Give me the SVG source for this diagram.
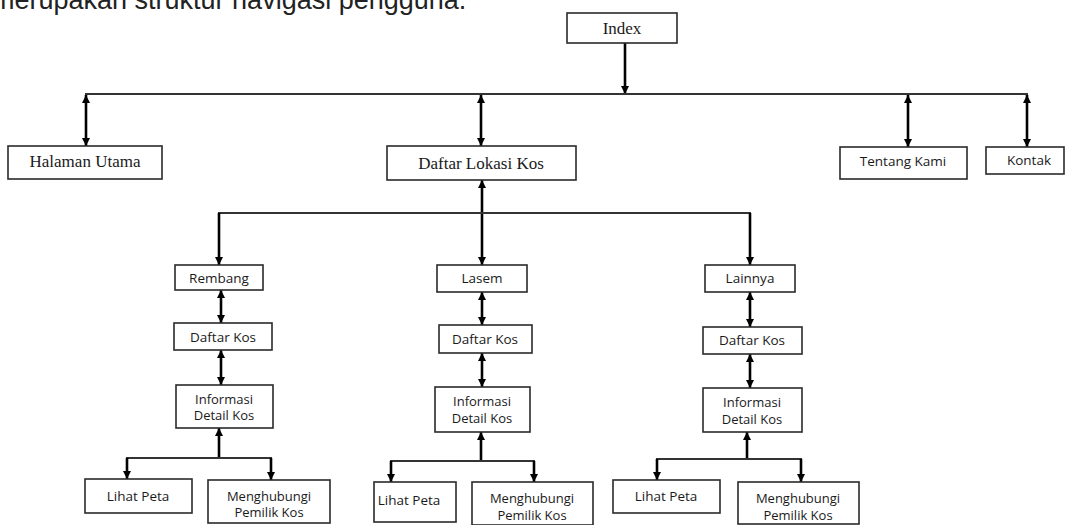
<svg xmlns="http://www.w3.org/2000/svg" width="1065" height="525" viewBox="0 0 1065 525">
  <style>
    .box { fill: #ffffff; stroke: #2a2a2a; stroke-width: 1.6; }
    .serif { font-family: "Liberation Serif", "Times New Roman", serif; font-size: 17px; fill: #1a1a1a; text-anchor: middle; dominant-baseline: central; }
    .sans { font-family: "Open Sans", "Noto Sans", sans-serif; font-size: 13.5px; fill: #1a1a1a; text-anchor: middle; dominant-baseline: central; }
    .sans2 { font-family: "Open Sans", "Noto Sans", sans-serif; font-size: 13px; fill: #1a1a1a; text-anchor: middle; dominant-baseline: central; }
    .arrow { fill: none; stroke: #000000; stroke-width: 2.6; }
    .bar { fill: none; stroke: #333333; stroke-width: 2; }
    .intro { font-family: "Liberation Sans", Arial, sans-serif; font-size: 27px; fill: #222222; }
  </style>
  <defs>
    <marker id="head" viewBox="0 0 10 10" refX="10" refY="5" markerWidth="9" markerHeight="8" markerUnits="userSpaceOnUse" orient="auto-start-reverse">
      <path d="M0,0 L10,5 L0,10 Z" fill="#000000"/>
    </marker>
  </defs>

  <rect width="1065" height="525" fill="#ffffff"/>

  <text class="intro" x="-8" y="9">merupakan struktur navigasi pengguna.</text>

  <!-- connectors -->
  <g id="connectors">
    <!-- level 1 -->
    <line class="arrow" x1="625" y1="43" x2="625" y2="94" marker-end="url(#head)"/>
    <line class="bar" x1="85" y1="94" x2="1028" y2="94"/>
    <line class="arrow" x1="86" y1="95" x2="86" y2="146" marker-start="url(#head)" marker-end="url(#head)"/>
    <line class="arrow" x1="481" y1="95" x2="481" y2="146" marker-start="url(#head)" marker-end="url(#head)"/>
    <line class="arrow" x1="908" y1="95" x2="908" y2="147" marker-start="url(#head)" marker-end="url(#head)"/>
    <line class="arrow" x1="1027" y1="95" x2="1027" y2="147" marker-start="url(#head)" marker-end="url(#head)"/>

    <!-- level 2 -->
    <line class="arrow" x1="482" y1="180" x2="482" y2="265" marker-start="url(#head)" marker-end="url(#head)"/>
    <line class="bar" x1="218" y1="213" x2="751" y2="213"/>
    <line class="arrow" x1="219" y1="213" x2="219" y2="265" marker-end="url(#head)"/>
    <line class="arrow" x1="750" y1="213" x2="750" y2="265" marker-end="url(#head)"/>

    <!-- Rembang column -->
    <line class="arrow" x1="221" y1="290" x2="221" y2="323" marker-start="url(#head)" marker-end="url(#head)"/>
    <line class="arrow" x1="221" y1="350" x2="221" y2="385" marker-start="url(#head)" marker-end="url(#head)"/>
    <line class="arrow" x1="219" y1="458" x2="219" y2="428" marker-end="url(#head)"/>
    <line class="bar" x1="126" y1="458" x2="272" y2="458"/>
    <line class="arrow" x1="127" y1="458" x2="127" y2="479" marker-end="url(#head)"/>
    <line class="arrow" x1="271" y1="458" x2="271" y2="480" marker-end="url(#head)"/>

    <!-- Lasem column -->
    <line class="arrow" x1="482" y1="292" x2="482" y2="325" marker-start="url(#head)" marker-end="url(#head)"/>
    <line class="arrow" x1="482" y1="353" x2="482" y2="387" marker-start="url(#head)" marker-end="url(#head)"/>
    <line class="arrow" x1="481" y1="461" x2="481" y2="432" marker-end="url(#head)"/>
    <line class="bar" x1="390" y1="461" x2="535" y2="461"/>
    <line class="arrow" x1="391" y1="461" x2="391" y2="482" marker-end="url(#head)"/>
    <line class="arrow" x1="534" y1="461" x2="534" y2="482" marker-end="url(#head)"/>

    <!-- Lainnya column -->
    <line class="arrow" x1="750" y1="292" x2="750" y2="327" marker-start="url(#head)" marker-end="url(#head)"/>
    <line class="arrow" x1="750" y1="354" x2="750" y2="388" marker-start="url(#head)" marker-end="url(#head)"/>
    <line class="arrow" x1="747" y1="459" x2="747" y2="432" marker-end="url(#head)"/>
    <line class="bar" x1="656" y1="459" x2="802" y2="459"/>
    <line class="arrow" x1="657" y1="459" x2="657" y2="480" marker-end="url(#head)"/>
    <line class="arrow" x1="801" y1="459" x2="801" y2="482" marker-end="url(#head)"/>
  </g>

  <!-- nodes -->
  <g id="index">
    <rect class="box" x="567" y="13" width="110" height="30"/>
    <text class="serif" x="622" y="28">Index</text>
  </g>
  <g id="halaman-utama">
    <rect class="box" x="8" y="146" width="154" height="33"/>
    <text class="serif" x="85" y="161">Halaman Utama</text>
  </g>
  <g id="daftar-lokasi-kos">
    <rect class="box" x="387" y="146" width="189" height="34"/>
    <text class="serif" x="481" y="163">Daftar Lokasi Kos</text>
  </g>
  <g id="tentang-kami">
    <rect class="box" x="840" y="147" width="127" height="32"/>
    <text class="sans" x="903" y="161">Tentang Kami</text>
  </g>
  <g id="kontak">
    <rect class="box" x="986" y="147" width="78" height="27"/>
    <text class="sans" x="1029" y="160">Kontak</text>
  </g>

  <g id="rembang">
    <rect class="box" x="175" y="265" width="88" height="25"/>
    <text class="sans" x="219" y="278">Rembang</text>
  </g>
  <g id="rembang-daftar-kos">
    <rect class="box" x="174" y="323" width="98" height="27"/>
    <text class="sans" x="223" y="337">Daftar Kos</text>
  </g>
  <g id="rembang-detail">
    <rect class="box" x="176" y="385" width="97" height="43"/>
    <text class="sans2" x="224" y="399">Informasi</text>
    <text class="sans2" x="224" y="415">Detail Kos</text>
  </g>
  <g id="rembang-peta">
    <rect class="box" x="85" y="479" width="107" height="34"/>
    <text class="sans" x="138" y="496">Lihat Peta</text>
  </g>
  <g id="rembang-pemilik">
    <rect class="box" x="208" y="480" width="122" height="43"/>
    <text class="sans2" x="269" y="496">Menghubungi</text>
    <text class="sans2" x="269" y="512">Pemilik Kos</text>
  </g>

  <g id="lasem">
    <rect class="box" x="437" y="265" width="90" height="27"/>
    <text class="sans" x="482" y="278">Lasem</text>
  </g>
  <g id="lasem-daftar-kos">
    <rect class="box" x="439" y="325" width="93" height="28"/>
    <text class="sans" x="485" y="339">Daftar Kos</text>
  </g>
  <g id="lasem-detail">
    <rect class="box" x="435" y="387" width="95" height="45"/>
    <text class="sans2" x="482" y="401">Informasi</text>
    <text class="sans2" x="482" y="418">Detail Kos</text>
  </g>
  <g id="lasem-peta">
    <rect class="box" x="374" y="482" width="82" height="40"/>
    <text class="sans" x="409" y="500">Lihat Peta</text>
  </g>
  <g id="lasem-pemilik">
    <rect class="box" x="472" y="482" width="121" height="43"/>
    <text class="sans2" x="532" y="498">Menghubungi</text>
    <text class="sans2" x="532" y="515">Pemilik Kos</text>
  </g>

  <g id="lainnya">
    <rect class="box" x="705" y="265" width="90" height="27"/>
    <text class="sans" x="750" y="278">Lainnya</text>
  </g>
  <g id="lainnya-daftar-kos">
    <rect class="box" x="703" y="327" width="99" height="27"/>
    <text class="sans" x="752" y="340">Daftar Kos</text>
  </g>
  <g id="lainnya-detail">
    <rect class="box" x="703" y="388" width="99" height="44"/>
    <text class="sans2" x="752" y="402">Informasi</text>
    <text class="sans2" x="752" y="419">Detail Kos</text>
  </g>
  <g id="lainnya-peta">
    <rect class="box" x="613" y="480" width="107" height="33"/>
    <text class="sans" x="666" y="496">Lihat Peta</text>
  </g>
  <g id="lainnya-pemilik">
    <rect class="box" x="738" y="482" width="121" height="42"/>
    <text class="sans2" x="798" y="498">Menghubungi</text>
    <text class="sans2" x="798" y="515">Pemilik Kos</text>
  </g>
</svg>
